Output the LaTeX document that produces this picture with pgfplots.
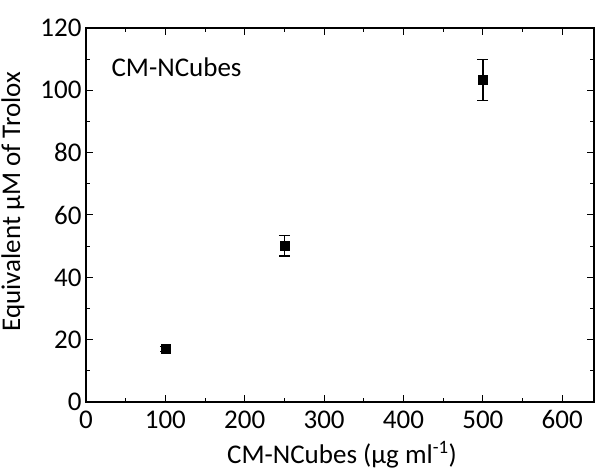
\documentclass[border=0pt]{standalone}
\usepackage{fontspec}
\setmainfont{Carlito}
\usepackage{pgfplots}
\pgfplotsset{compat=1.18}
\begin{document}
\begin{tikzpicture}
\useasboundingbox (-86pt,-69pt) rectangle (509pt,402pt);
\begin{axis}[
    at={(0,0)}, anchor=south west,
    scale only axis,
    width=508pt, height=374pt,
    xmin=0, xmax=640,
    ymin=0, ymax=120,
    xtick={0,100,...,600},
    ytick={0,20,...,120},
    minor x tick num=1,
    minor y tick num=1,
    tick align=inside,
    major tick length=7pt,
    minor tick length=4pt,
    axis line style={line width=1.2pt},
    every tick/.style={line width=1pt, black},
    tick label style={font=\fontsize{27}{30}\selectfont},
    xticklabel style={yshift=-5pt},
    yticklabel style={xshift=-1pt},
    /pgf/number format/assume math mode=true,
    xlabel={CM-NCubes (μg ml\textsuperscript{-1})},
    ylabel={Equivalent μM of Trolox},
    label style={font=\fontsize{27}{30}\selectfont},
    xlabel style={at={(axis description cs:0.504,-0.141)}, anchor=center},
    ylabel style={at={(axis description cs:-0.144,0.536)}, anchor=center},
]
\addplot[only marks, mark=square*, mark size=4.5pt, black,
    error bars/.cd, y dir=both, y explicit,
    error bar style={line width=1.4pt},
    error mark options={rotate=90, mark size=5.5pt, line width=1.4pt}]
    coordinates {
    (100, 17) +- (0, 0.8)
    (250, 50.2) +- (0, 3.3)
    (500, 103.3) +- (0, 6.6)
};
\node[anchor=west, font=\fontsize{27}{30}\selectfont, inner sep=0pt]
    at (rel axis cs:0.05,0.896) {CM-NCubes};
\end{axis}
\end{tikzpicture}
\end{document}
